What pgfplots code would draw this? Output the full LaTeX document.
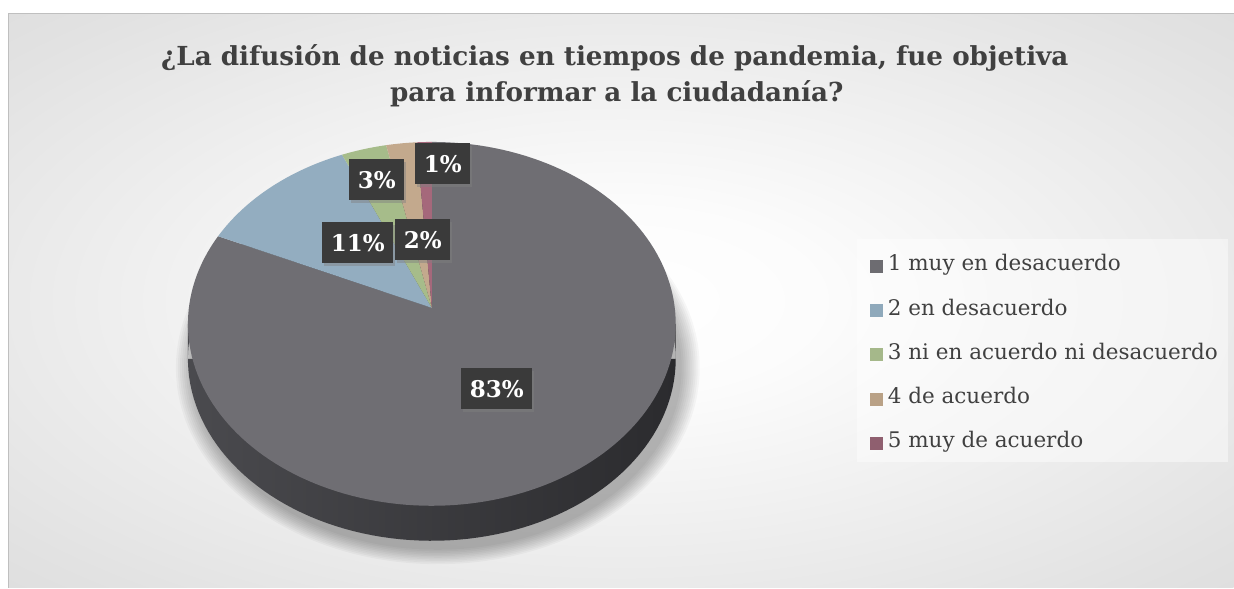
\documentclass[border=0pt]{standalone}
\usepackage{pgfplots}
\pgfplotsset{compat=1.18}
\usepackage{fontspec}
\setmainfont{DejaVu Serif}
\usetikzlibrary{shadows}

\definecolor{cGray}{HTML}{6F6E73}
\definecolor{cBlue}{HTML}{93ADC0}
\definecolor{cGreen}{HTML}{A6BC8A}
\definecolor{cTan}{HTML}{C3A98D}
\definecolor{cPink}{HTML}{A5687B}
\definecolor{lGray}{HTML}{6D6C71}
\definecolor{lBlue}{HTML}{8FA9BB}
\definecolor{lGreen}{HTML}{A5B88A}
\definecolor{lTan}{HTML}{B9A186}
\definecolor{lPink}{HTML}{8F5F6F}
\definecolor{sideL}{HTML}{4A4A4E}
\definecolor{sideR}{HTML}{2B2B2E}
\definecolor{lbl}{HTML}{3A3A3A}
\definecolor{txt}{HTML}{404040}
\definecolor{bg0}{HTML}{FCFCFC}
\definecolor{bgM}{HTML}{E2E2E2}
\definecolor{bgA}{HTML}{D2D2D2}
\definecolor{bgB}{HTML}{C3C3C3}

\pgfdeclareradialshading{bgshade}{\pgfpoint{0bp}{0bp}}{color(0bp)=(white); color(8bp)=(bg0); color(32bp)=(bgM); color(50bp)=(bgA); color(71bp)=(bgB)}

% data (percent)
\def\vA{83}\def\vB{11}\def\vC{3}\def\vD{2}\def\vE{1}
% slice boundaries, clockwise from 12 o'clock
\pgfmathsetmacro{\tA}{90}
\pgfmathsetmacro{\tB}{\tA-3.6*\vA}
\pgfmathsetmacro{\tC}{\tB-3.6*\vB}
\pgfmathsetmacro{\tD}{\tC-3.6*\vC}
\pgfmathsetmacro{\tE}{\tD-3.6*\vD}
\pgfmathsetmacro{\tF}{\tE-3.6*\vE}

\begin{document}
\begin{tikzpicture}
\begin{axis}[x=1pt,y=1pt,xmin=0,xmax=1234,ymin=0,ymax=588,
  hide axis, clip=false, scale only axis]
% page and chart area
\fill[white] (axis cs:0,0) rectangle (axis cs:1234,588);
\shade[shading=bgshade] (axis cs:9,0) rectangle (axis cs:1234,574);
\draw[black!25, line width=1pt] (axis cs:9,0) -- (axis cs:9,574) -- (axis cs:1234,574);

% title
\node[anchor=base, text=txt, font=\bfseries\fontsize{26.2}{30}\selectfont] at (axis cs:615,522) {¿La difusión de noticias en tiempos de pandemia, fue objetiva};
\node[anchor=base, text=txt, font=\bfseries\fontsize{26.2}{30}\selectfont] at (axis cs:617,486) {para informar a la ciudadanía?};

% soft shadow
\pgfplotsinvokeforeach{0,...,9}{
  \fill[black, opacity=0.03] (axis cs:438,220) ellipse [x radius={244pt+2pt*#1}, y radius={182pt+1.6pt*#1}];
}

% side of the pie
\addplot[forget plot, draw=none, left color=sideL, right color=sideR, domain=0:360, samples=160]
  ({432+244*cos(x)},{229+182*sin(x)}) -- cycle (axis cs:188,229) rectangle (axis cs:676,264);

% slices (top face)
\addplot[forget plot, draw=none, fill=cGray, domain=\tB:\tA, samples=160]
  ({432+244*cos(x)},{264+182*sin(x)}) -- (axis cs:432,280) -- cycle;
\addplot[forget plot, draw=none, fill=cBlue, domain=\tC:\tB, samples=30]
  ({432+244*cos(x)},{264+182*sin(x)}) -- (axis cs:432,280) -- cycle;
\addplot[forget plot, draw=none, fill=cGreen, domain=\tD:\tC, samples=10]
  ({432+244*cos(x)},{264+182*sin(x)}) -- (axis cs:432,280) -- cycle;
\addplot[forget plot, draw=none, fill=cTan, domain=\tE:\tD, samples=8]
  ({432+244*cos(x)},{264+182*sin(x)}) -- (axis cs:432,280) -- cycle;
\addplot[forget plot, draw=none, fill=cPink, domain=\tF:\tE, samples=6]
  ({432+244*cos(x)},{264+182*sin(x)}) -- (axis cs:432,280) -- cycle;

% data labels
\tikzset{dl/.style={fill=lbl, text=white, font=\bfseries\fontsize{23}{23}\selectfont,
  minimum height=41pt, inner xsep=8.5pt, drop shadow={opacity=0.45, shadow xshift=2pt, shadow yshift=-3pt}}}
\node[dl] at (axis cs:443,424) {\vE\%};
\node[dl] at (axis cs:377,408) {\vC\%};
\node[dl] at (axis cs:358,345) {\vB\%};
\node[dl] at (axis cs:423,348) {\vD\%};
\node[dl] at (axis cs:497,199) {\vA\%};

% legend
\fill[white, opacity=0.45] (axis cs:857,126) rectangle (axis cs:1228,349);
\fill[lGray]  (axis cs:870,315) rectangle (axis cs:883,328);
\fill[lBlue]  (axis cs:870,270.75) rectangle (axis cs:883,283.75);
\fill[lGreen] (axis cs:870,226.5) rectangle (axis cs:883,239.5);
\fill[lTan]   (axis cs:870,182.25) rectangle (axis cs:883,195.25);
\fill[lPink]  (axis cs:870,138) rectangle (axis cs:883,151);
\tikzset{le/.style={anchor=base west, inner sep=0pt, text=txt, font=\fontsize{21.5}{24}\selectfont}}
\node[le] at (axis cs:888,317) {1 muy en desacuerdo};
\node[le] at (axis cs:888,272.75) {2 en desacuerdo};
\node[le] at (axis cs:888,228.5) {3 ni en acuerdo ni desacuerdo};
\node[le] at (axis cs:888,184.25) {4 de acuerdo};
\node[le] at (axis cs:888,140) {5 muy de acuerdo};
\end{axis}
\end{tikzpicture}
\end{document}
